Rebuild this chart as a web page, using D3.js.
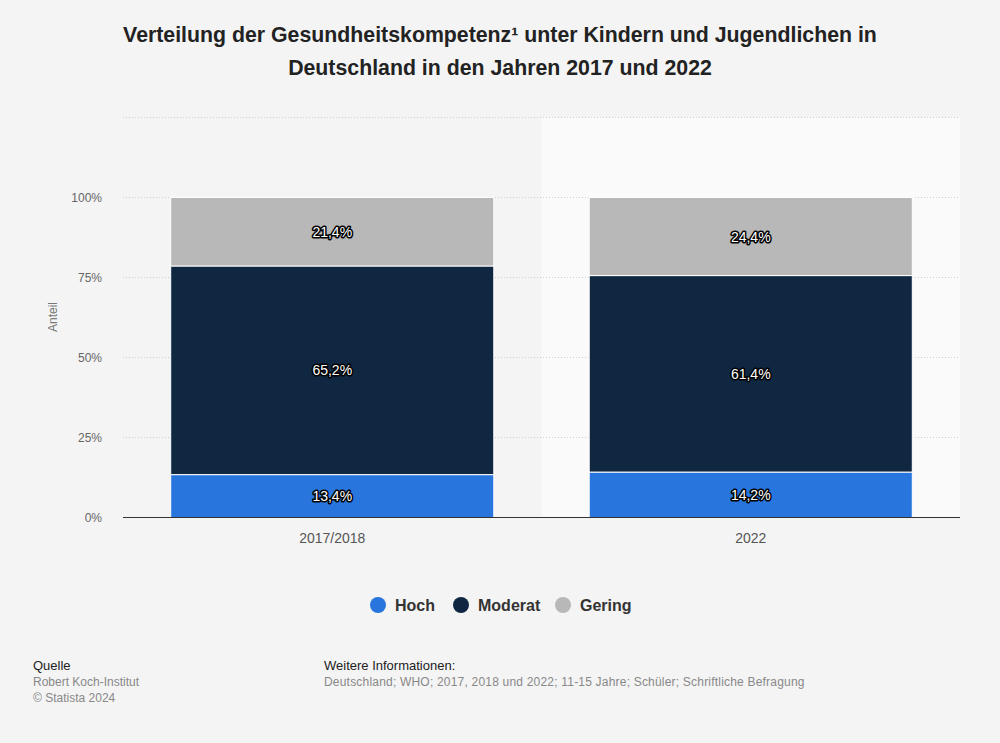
<!DOCTYPE html>
<html><head><meta charset="utf-8">
<script src="https://cdn.jsdelivr.net/npm/d3@7"></script>
<style>body{margin:0;background:#f4f4f4;}svg{display:block;font-family:"Liberation Sans",Arial,sans-serif;}</style>
</head><body>
<svg id="c" width="1000" height="743"></svg>
<script>
const categories = ["2017/2018", "2022"];
const seriesNames = ["Hoch", "Moderat", "Gering"];
const hoch = [13.4, 14.2];
const moderat = [65.2, 61.4];
const gering = [21.4, 24.4];
const colors = ["#2876dd", "#0f2741", "#b8b8b8"];
const yTicks = [0, 25, 50, 75, 100, 125];

const svg = d3.select("#c");
svg.append("rect").attr("width",1000).attr("height",743).attr("fill","#f4f4f4");

const x = d3.scaleBand().domain(categories).range([123,960]).padding(0);
const y = d3.scaleLinear().domain([0,125]).range([517.5,117.5]);

svg.append("rect").attr("x", x("2022")).attr("y", y(125)).attr("width", x.bandwidth()).attr("height", y(0)-y(125)).attr("fill","#fafafa");

svg.append("g").selectAll("line").data(yTicks.filter(d=>d>0)).join("line")
  .attr("x1",123).attr("x2",960).attr("y1",d=>y(d)).attr("y2",d=>y(d))
  .attr("stroke","#cfcfcf").attr("stroke-dasharray","1,2").attr("stroke-width",1);

svg.append("g").selectAll("text").data(yTicks.filter(d=>d<=100)).join("text")
  .attr("x",102).attr("y",d=>y(d)+4).attr("text-anchor","end")
  .attr("font-size",12).attr("fill","#666").text(d=>d+"%");

svg.append("text").attr("transform","translate(57,317) rotate(-90)").attr("text-anchor","middle")
  .attr("font-size",12).attr("fill","#777").text("Anteil");

const rows = categories.map((c,i)=>({cat:c, Hoch:hoch[i], Moderat:moderat[i], Gering:gering[i]}));
const stack = d3.stack().keys(seriesNames)(rows);
const barW = x.bandwidth()*0.772;

const g = svg.append("g");
stack.forEach((layer,si)=>{
  g.selectAll(null).data(layer).join("rect")
    .attr("x", d=>x(d.data.cat)+(x.bandwidth()-barW)/2)
    .attr("y", d=>y(d[1]))
    .attr("width", barW)
    .attr("height", d=>y(d[0])-y(d[1]))
    .attr("fill", colors[si]).attr("stroke","#ffffff").attr("stroke-width",1);
});
stack.forEach((layer,si)=>{
  g.selectAll(null).data(layer).join("text")
    .attr("x", d=>x(d.data.cat)+x.bandwidth()/2)
    .attr("y", d=>(y(d[0])+y(d[1]))/2+5)
    .attr("text-anchor","middle").attr("font-size",14)
    .attr("fill","#ffffff").attr("stroke","#000").attr("stroke-width",3)
    .attr("stroke-linejoin","round").attr("paint-order","stroke")
    .text(d=>String((d[1]-d[0]).toFixed(1)).replace(".",",")+"%");
});

svg.append("line").attr("x1",123).attr("x2",960).attr("y1",y(0)).attr("y2",y(0)).attr("stroke","#333").attr("stroke-width",1.2);
svg.append("g").selectAll("text").data(categories).join("text")
  .attr("x",d=>x(d)+x.bandwidth()/2).attr("y",543).attr("text-anchor","middle")
  .attr("font-size",14).attr("fill","#555").text(d=>d);

const title = svg.append("text").attr("text-anchor","middle").attr("font-size",21.3).attr("font-weight","bold").attr("fill","#222");
title.append("tspan").attr("x",500).attr("y",42).text("Verteilung der Gesundheitskompetenz¹ unter Kindern und Jugendlichen in");
title.append("tspan").attr("x",500).attr("y",75).text("Deutschland in den Jahren 2017 und 2022");

const legendX = [378, 461, 563];
const lg = svg.append("g");
seriesNames.forEach((n,i)=>{
  lg.append("circle").attr("cx",legendX[i]).attr("cy",605).attr("r",8).attr("fill",colors[i]);
  lg.append("text").attr("x",legendX[i]+17).attr("y",611).attr("font-size",16).attr("font-weight","bold").attr("fill","#333").text(n);
});

svg.append("text").attr("x",33).attr("y",670).attr("font-size",13).attr("fill","#222").text("Quelle");
svg.append("text").attr("x",33).attr("y",686).attr("font-size",12).attr("fill","#888").text("Robert Koch-Institut");
svg.append("text").attr("x",33).attr("y",702).attr("font-size",12).attr("fill","#888").text("© Statista 2024");
svg.append("text").attr("x",324).attr("y",670).attr("font-size",13).attr("fill","#222").text("Weitere Informationen:");
svg.append("text").attr("x",324).attr("y",686).attr("font-size",12).attr("fill","#888").attr("letter-spacing",0.2).text("Deutschland; WHO; 2017, 2018 und 2022; 11-15 Jahre; Schüler; Schriftliche Befragung");
</script>
</body></html>
